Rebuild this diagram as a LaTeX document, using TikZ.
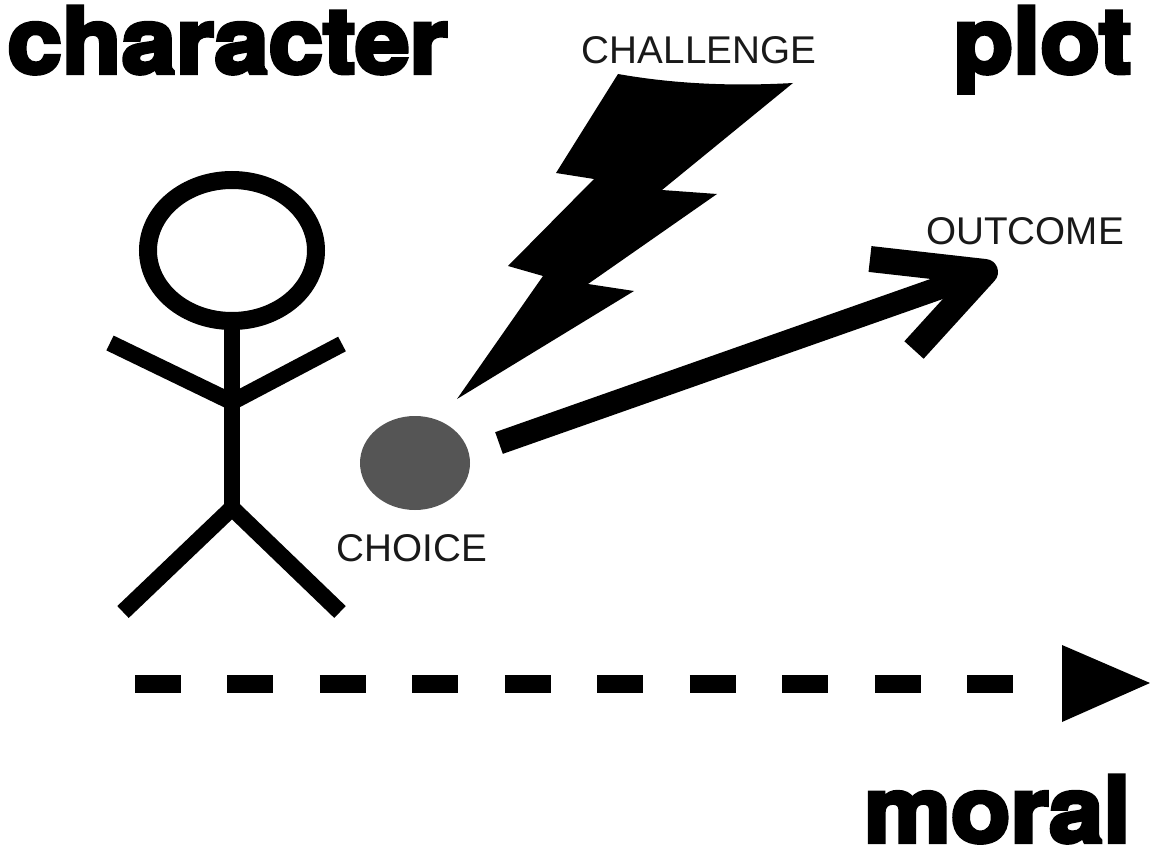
\documentclass[tikz,border=0pt]{standalone}
\usepackage{fontspec}
\usepackage{xcolor}
\setmainfont{Liberation Sans}
\newfontfamily\heavyfont[FakeBold=4.5,FakeStretch=1.07]{TeX Gyre Heros Bold}
\definecolor{choicegray}{HTML}{555555}
\tikzset{
  title/.style={font=\heavyfont\fontsize{52}{56}\selectfont, inner sep=0pt, anchor=base east},
  caption/.style={font=\fontsize{22}{24}\selectfont, text=black!90, inner sep=0pt},
  limb/.style={line width=0.33cm},
}
\begin{document}
\begin{tikzpicture}[x=0.02cm, y=-0.02cm]
  \useasboundingbox (0, 0) rectangle (1150, 851);

  \node[title] (character) at (448, 73) {character};
  \node[title] (plot) at (1132, 73) {plot};
  \node[title] (moral) at (1131, 842) {moral};

  % stick figure
  \coordinate (H) at (232, 250.5);
  \coordinate (N) at (232, 322);
  \coordinate (W) at (232, 402);
  \coordinate (B) at (232, 508);
  \draw[line width=0.36cm] (H) ellipse (84 and 70.5);
  \draw[limb] (N) -- (B);
  \draw[limb] (110, 343) -- (W) -- (342, 344);
  \draw[limb] (123, 612) -- (B) -- (340, 612);

  % choice
  \fill[choicegray] (415, 463) ellipse (55 and 47);
  \node[caption] (choice) at (412, 548) {CHOICE};

  % challenge
  \fill (618, 74) .. controls (680, 85) and (740, 86) .. (793, 83)
    -- (662, 190) -- (717, 194) -- (588, 284) -- (634, 291) -- (457, 399)
    -- (543, 276) -- (508, 266) -- (594, 179) -- (556, 173) -- cycle;
  \node[caption] (challenge) at (699, 50) {CHALLENGE};

  % outcome
  \coordinate (S) at (499, 443);
  \coordinate (T) at (985, 272);
  \draw[line width=0.46cm] (S) -- (T);
  \draw[line width=0.52cm, line join=round] (870, 259) -- (T) -- (914, 350);
  \node[caption] (outcome) at (1025, 231) {OUTCOME};

  % moral line
  \coordinate (L) at (135, 684);
  \coordinate (E) at (1015, 684);
  \draw[line width=0.36cm, dash pattern=on 0.92cm off 0.93cm] (L) -- (E);
  \fill (1062, 645) -- (1150, 683) -- (1062, 722) -- cycle;
\end{tikzpicture}
\end{document}
